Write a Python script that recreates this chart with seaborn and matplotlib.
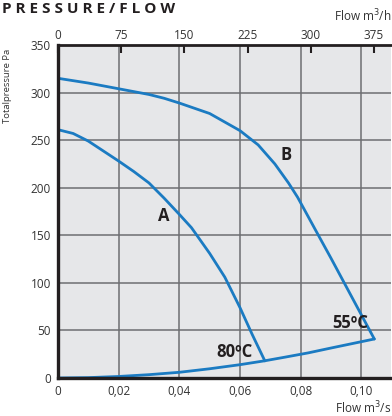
import numpy as np
import pandas as pd
import matplotlib
matplotlib.use("Agg")
import matplotlib.pyplot as plt
import seaborn as sns

# fan curve B (55C), fan curve A (80C), system curve
flow_b = [0, 0.01, 0.02, 0.03, 0.035, 0.04, 0.05, 0.06, 0.066, 0.0715, 0.076, 0.079,
          0.085, 0.09, 0.0974, 0.1043]
press_b = [315, 310, 304, 298, 294, 289, 278, 260, 245, 225, 205, 190, 155, 126, 82, 41]

flow_a = [0, 0.005, 0.01, 0.02, 0.025, 0.03, 0.035, 0.04, 0.044, 0.05, 0.055, 0.06,
          0.064, 0.0682]
press_a = [261, 257, 249, 228, 217, 205, 189, 172, 158, 131, 106, 74, 46, 18]

flow_sys = [0, 0.01, 0.02, 0.03, 0.04, 0.05, 0.06, 0.068, 0.075, 0.0825, 0.09, 0.1043]
press_sys = [0, 0.4, 1.6, 3.5, 6, 9.7, 14, 18, 22, 26.4, 31.5, 41]

x_ticks = [0, 0.02, 0.04, 0.06, 0.08, 0.10]
x_labels = ["0", "0,02", "0,04", "0,06", "0,08", "0,10"]
y_ticks = [0, 50, 100, 150, 200, 250, 300, 350]
top_ticks = [0, 75, 150, 225, 300, 375]

blue = "#1b7bc2"
bg = "#e6e7e9"
txt = "#333333"
dark = "#231f20"

sns.set_style("white")
plt.rcParams["font.family"] = ["Open Sans", "DejaVu Sans"]

fig = plt.figure(figsize=(3.92, 4.16), dpi=100)
ax = fig.add_axes([58 / 392, 1 - 378 / 416, (391 - 58) / 392, (378 - 45) / 416])
ax.set_facecolor(bg)

for fx, py in [(flow_b, press_b), (flow_a, press_a), (flow_sys, press_sys)]:
    df = pd.DataFrame({"flow": fx, "pressure": py})
    sns.lineplot(data=df, x="flow", y="pressure", sort=False, color=blue,
                 linewidth=2.0, ax=ax)

ax.set_xlim(0, 0.1098)
ax.set_ylim(0, 350)
ax.set_xticks(x_ticks)
ax.set_xticklabels(x_labels)
ax.set_yticks(y_ticks)
ax.grid(True, color="#6d6e71", linewidth=1.1)
ax.set_axisbelow(True)
ax.tick_params(axis="both", length=0, labelsize=8.5, labelcolor=txt, pad=5)
ax.set_xlabel("")
ax.set_ylabel("")
for s in ["left", "bottom"]:
    ax.spines[s].set_linewidth(2.4)
    ax.spines[s].set_color(dark)
ax.spines["top"].set_linewidth(2.0)
ax.spines["top"].set_color(dark)
ax.spines["right"].set_visible(False)

top = ax.secondary_xaxis("top", functions=(lambda v: v * 3600, lambda v: v / 3600))
top.set_xticks(top_ticks)
top.tick_params(direction="in", length=6, width=1.5, color=dark,
                labelsize=8.5, labelcolor=txt, pad=2)
top.spines["top"].set_visible(False)

lbl = dict(fontsize=12, fontweight="bold", color=dark, ha="center", va="center")
ax.text(0.0350, 170, "A", **lbl)
ax.text(0.0752, 234, "B", **lbl)
ax.text(0.0583, 27, "80ºC", **lbl)
ax.text(0.0965, 58, "55ºC", **lbl)

fig.text(2 / 392, 1 - 9 / 416, "P R E S S U R E / F L O W", fontsize=11, fontweight="bold",
         color=dark, ha="left", va="center")
fig.text(391 / 392, 1 - 16 / 416, "Flow m$^3$/h", fontsize=8.5, color=txt, ha="right", va="center")
fig.text(391 / 392, 1 - 408 / 416, "Flow m$^3$/s", fontsize=8.5, color=txt, ha="right", va="center")
fig.text(8 / 392, 1 - 86 / 416, "Totalpressure Pa", fontsize=6.8, color=txt, rotation=90,
         ha="center", va="center")

fig.savefig("out.png", dpi=100)
